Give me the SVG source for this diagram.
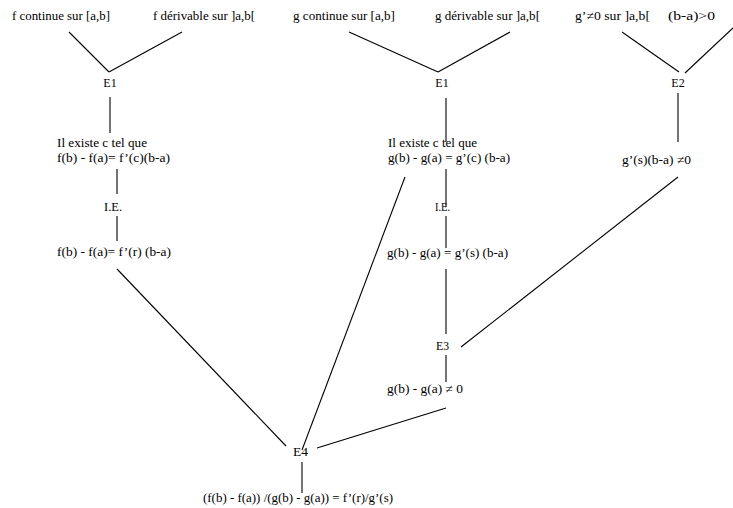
<svg xmlns="http://www.w3.org/2000/svg" width="733" height="508" viewBox="0 0 733 508" font-family="Liberation Serif, serif" font-size="12">
<style>
.m{text-anchor:middle}
#connectors line{stroke:#000;stroke-width:1.1}
</style>
<rect width="733" height="508" fill="#fff"/>
<g id="connectors">
<line x1="69" y1="32" x2="109" y2="72"/>
<line x1="182" y1="32" x2="109" y2="72"/>
<line x1="110" y1="97" x2="110" y2="133"/>
<line x1="117" y1="169" x2="117" y2="194"/>
<line x1="117" y1="216" x2="117" y2="241"/>
<line x1="117" y1="269" x2="286" y2="446"/>
<line x1="349" y1="32" x2="438" y2="72"/>
<line x1="510" y1="32" x2="438" y2="72"/>
<line x1="446" y1="98" x2="446" y2="142"/>
<line x1="446" y1="169" x2="446" y2="207"/>
<line x1="446" y1="216" x2="446" y2="248"/>
<line x1="446" y1="269" x2="446" y2="334"/>
<line x1="446" y1="355" x2="446" y2="382"/>
<line x1="405" y1="177" x2="302" y2="450"/>
<line x1="622" y1="32" x2="679" y2="72"/>
<line x1="733" y1="28" x2="685" y2="73"/>
<line x1="678" y1="93" x2="678" y2="142"/>
<line x1="678" y1="177" x2="461" y2="347"/>
<line x1="446" y1="408" x2="317" y2="448"/>
<line x1="302" y1="462" x2="302" y2="493"/>
</g>
<g id="f-continue"><text x="12" y="20" textLength="98" lengthAdjust="spacingAndGlyphs">f continue sur [a,b]</text></g>
<g id="f-derivable"><text x="153" y="20" textLength="102" lengthAdjust="spacingAndGlyphs">f dérivable sur ]a,b[</text></g>
<g id="g-continue"><text x="293" y="20" textLength="102" lengthAdjust="spacingAndGlyphs">g continue sur [a,b]</text></g>
<g id="g-derivable"><text x="435" y="20" textLength="105" lengthAdjust="spacingAndGlyphs">g dérivable sur ]a,b[</text></g>
<g id="gprime-nonzero"><text x="575" y="20" textLength="75" lengthAdjust="spacingAndGlyphs">g’≠0 sur ]a,b[</text></g>
<g id="b-minus-a"><text x="668" y="20" textLength="47" lengthAdjust="spacingAndGlyphs">(b-a)&gt;0</text></g>
<g id="E1-f"><text class="m" x="110" y="87">E1</text></g>
<g id="E1-g"><text class="m" x="442" y="87">E1</text></g>
<g id="E2"><text class="m" x="678" y="87">E2</text></g>
<g id="taf-f">
<text x="57" y="147" textLength="90" lengthAdjust="spacingAndGlyphs">Il existe c tel que</text>
<text x="57" y="162" textLength="113" lengthAdjust="spacingAndGlyphs">f(b) - f(a)= f’(c)(b-a)</text>
</g>
<g id="taf-g">
<text x="388" y="147" textLength="89" lengthAdjust="spacingAndGlyphs">Il existe c tel que</text>
<text x="388" y="162" textLength="122" lengthAdjust="spacingAndGlyphs">g(b) - g(a) = g’(c) (b-a)</text>
</g>
<g id="IE-f"><text x="104" y="211" textLength="18" lengthAdjust="spacingAndGlyphs">I.E.</text></g>
<g id="IE-g"><text x="435" y="211" textLength="15" lengthAdjust="spacingAndGlyphs">I.E.</text></g>
<g id="gprime-s"><text x="622" y="164" textLength="69" lengthAdjust="spacingAndGlyphs">g’(s)(b-a) ≠0</text></g>
<g id="f-r"><text x="57" y="256" textLength="114" lengthAdjust="spacingAndGlyphs">f(b) - f(a)=  f’(r) (b-a)</text></g>
<g id="g-s"><text x="387" y="257" textLength="121" lengthAdjust="spacingAndGlyphs">g(b) - g(a) = g’(s) (b-a)</text></g>
<g id="E3"><text x="436" y="350" textLength="13" lengthAdjust="spacingAndGlyphs">E3</text></g>
<g id="g-nonzero"><text x="387" y="393" textLength="76" lengthAdjust="spacingAndGlyphs">g(b) - g(a) ≠ 0</text></g>
<g id="E4"><text x="293" y="456" textLength="15" lengthAdjust="spacingAndGlyphs">E4</text></g>
<g id="result"><text x="203" y="502" textLength="190" lengthAdjust="spacingAndGlyphs">(f(b) - f(a)) /(g(b) - g(a)) = f’(r)/g’(s)</text></g>
</svg>
